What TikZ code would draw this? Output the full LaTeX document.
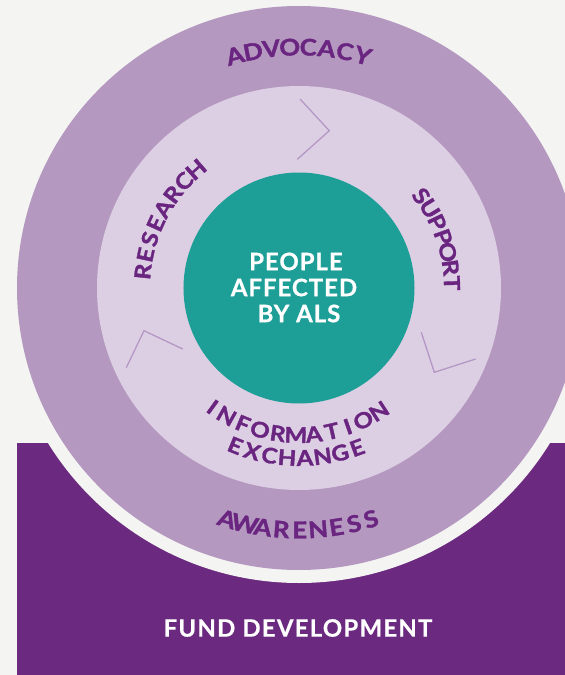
\documentclass[tikz,border=0pt]{standalone}
\usepackage{fontspec}
\setmainfont{Lato}
\definecolor{bg}{HTML}{F4F4F2}
\definecolor{outerring}{HTML}{B498C0}
\definecolor{innerring}{HTML}{DCCFE3}
\definecolor{tealc}{HTML}{1D9E97}
\definecolor{darkpurple}{HTML}{6B297F}
\definecolor{txtpurple}{HTML}{6A2580}
\definecolor{chevc}{HTML}{B597C6}
\def\awfont{\fontsize{22}{26}\selectfont\bfseries}
\def\awx{1.12}
\newcommand\awmeasure{%
  \setbox0=\hbox{\awfont\ch}%
  \pgfmathsetmacro\aww{\the\wd0*\awx}%
  \if\ch I\pgfmathsetmacro\aww{\aww-3}\fi
  \if\ch S\pgfmathsetmacro\aww{\aww-1}\fi
}
% #1 radius, #2 first centre angle, #3 last centre angle, #4 orientation (1 = tops outward, -1 = tops inward), #5 letters
\newcommand\arcword[5]{%
  \gdef\awsum{0}\gdef\awn{0}\gdef\awfirst{0}\gdef\awlast{0}%
  \foreach \ch in {#5}{%
    \awmeasure
    \pgfmathsetmacro\tmp{\awsum+\aww}\xdef\awsum{\tmp}%
    \pgfmathtruncatemacro\tmpn{\awn+1}\xdef\awn{\tmpn}%
    \ifnum\awn=1 \xdef\awfirst{\aww}\fi
    \xdef\awlast{\aww}%
  }%
  \pgfmathsetmacro\awarc{(abs(#3-(#2))/180*pi)*#1}%
  \pgfmathsetmacro\awsp{(\awarc-(\awsum-\awfirst/2-\awlast/2))/(\awn-1)}%
  \pgfmathsetmacro\awdir{((#3)>(#2))?1:-1}%
  \gdef\awpos{0}\gdef\awprev{0}\gdef\awi{0}%
  \foreach \ch in {#5}{%
    \awmeasure
    \pgfmathtruncatemacro\tmpn{\awi+1}\xdef\awi{\tmpn}%
    \ifnum\awi>1 \pgfmathsetmacro\tmp{\awpos+\awprev/2+\awsp+\aww/2}\xdef\awpos{\tmp}\fi
    \xdef\awprev{\aww}%
    \pgfmathsetmacro\ang{#2+\awdir*(\awpos/#1)/pi*180}%
    \pgfmathsetmacro\rot{\ang-90*(#4)}%
    \node[ringletter, rotate=\rot, xscale=\awx] (L\awi) at (\ang:#1) {\ch};
  }%
}
\tikzset{
  ringletter/.style={inner sep=0pt, anchor=center, text=txtpurple, font=\awfont},
  centretext/.style={inner sep=0pt, anchor=center, text=white, font=\fontsize{24}{28}\selectfont\bfseries\addfontfeature{LetterSpace=4,FakeBold=0.8}},
  fundtext/.style={inner sep=0pt, anchor=center, text=white, font=\fontsize{24}{28}\selectfont\bfseries\addfontfeature{LetterSpace=5,FakeBold=0.5}},
  chev/.style={draw=chevc, line width=1.3pt, line join=miter}
}
\begin{document}
\begin{tikzpicture}[x=1pt,y=1pt]
\useasboundingbox (-299,-387) rectangle (266,288);
\fill[bg] (-299,-387) rectangle (266,288);
% fund development band
\fill[darkpurple] (-282,-155) rectangle (266,-387);
\node[fundtext] (fund) at (-1,-340) {FUND DEVELOPMENT};
% rings
\fill[bg] (0,0) circle (295);
\fill[outerring] (0,0) circle (282);
\fill[innerring] (0,0) circle (202);
\fill[tealc] (0,0) circle (115.5);
% chevrons
\draw[chev] (1,189) -- (30.3,157.3) -- (-1.7,128.7);
\draw[chev] (-172.7,-79.7) -- (-155,-42.7) -- (-116.3,-61);
\draw[chev] (122.3,-44.3) -- (135.3,-84.3) -- (176.7,-71);
% centre text
\node[centretext] (c1) at (-3,26.5) {PEOPLE};
\node[centretext] (c2) at (-5,0.5) {AFFECTED};
\node[centretext] (c3) at (0,-25.5) {BY ALS};
% ring words
\def\awfont{\fontsize{23}{27}\selectfont\bfseries\addfontfeature{FakeBold=1.5}}
\arcword{241}{105.4}{74.6}{1}{A,D,V,O,C,A,C,Y}
\arcword{242}{252.7}{287.3}{-1}{A,W,A,R,E,N,E,S,S}
\def\awfont{\fontsize{22}{26}\selectfont\bfseries\addfontfeature{FakeBold=1.5}}
\arcword{157}{174}{131}{1}{R,E,S,E,A,R,C,H}
\arcword{153}{37}{1.8}{1}{S,U,P,P,O,R,T}
\def\awfont{\fontsize{21.5}{25}\selectfont\bfseries\addfontfeature{FakeBold=1.5}}
\arcword{147}{234}{303}{-1}{I,N,F,O,R,M,A,T,I,O,N}
\arcword{170}{248}{290}{-1}{E,X,C,H,A,N,G,E}
\end{tikzpicture}
\end{document}
